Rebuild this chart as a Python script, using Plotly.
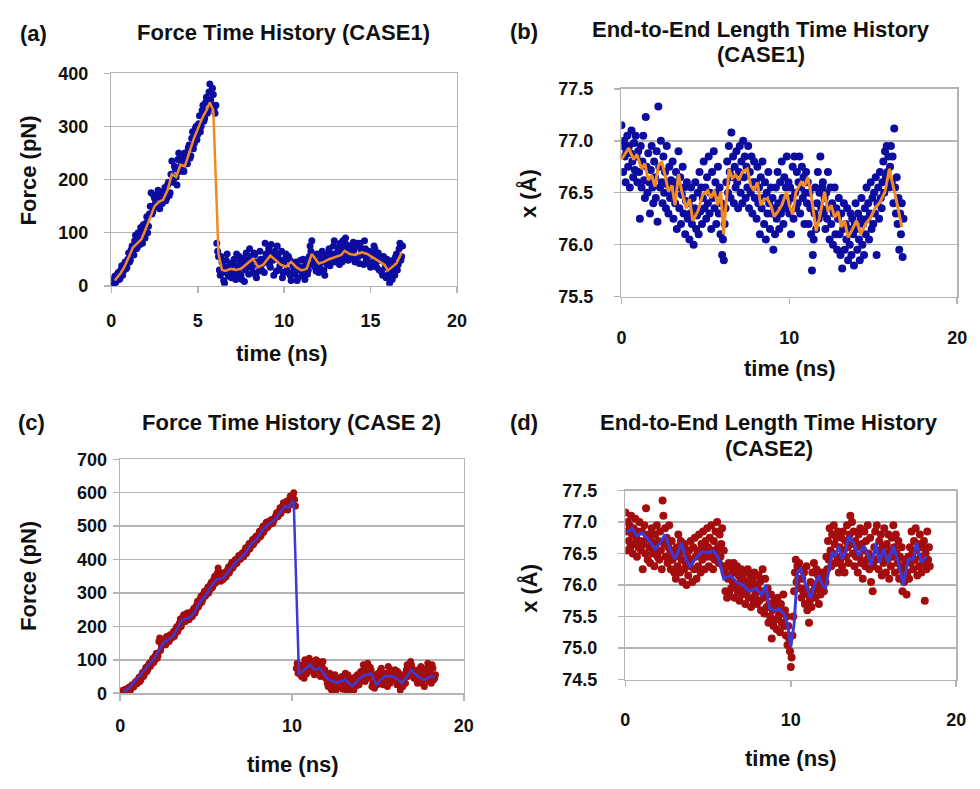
import plotly.graph_objects as go

# ---------------- DATA ----------------
# Panel (a): Force time history CASE1 (two interleaved sample sets, 0.1 ns apart each, offset 0.05 ns)
dt_a = 0.1
force_a = [8, 2, 18, 10, 25, 14, 38, 28, 45, 35,
           62, 48, 75, 58, 95, 72, 88, 110, 80, 105,
           118, 100, 135, 175, 140, 165, 150, 180, 145, 170,
           160, 185, 165, 195, 175, 235, 200, 220, 190, 250,
           225, 240, 215, 245, 230, 265, 245, 290, 268, 300,
           285, 320, 300, 340, 315, 355, 330, 380, 340, 360,
           325, 80, 55, 20, 45, 10, 35, 60, 18, 42,
           25, 50, 12, 38, 55, 20, 40, 8, 62, 35,
           70, 45, 25, 58, 15, 40, 65, 30, 50, 80,
           45, 70, 35, 62, 20, 55, 75, 30, 48, 15,
           42, 60, 25, 50, 10, 38, 22, 45, 15, 35,
           28, 50, 12, 40, 30, 75, 85, 50, 35, 60,
           25, 48, 65, 30, 55, 40, 70, 45, 60, 85,
           50, 72, 40, 65, 85, 55, 78, 48, 70, 60,
           82, 45, 75, 55, 80, 62, 40, 70, 50, 65,
           35, 60, 75, 42, 55, 30, 50, 20, 45, 15,
           35, 5, 28, 48, 20, 60, 40, 80, 55]
force_a2 = [0, 14, 6, 22, 12, 30, 20, 40, 32, 50,
            45, 68, 60, 85, 70, 100, 78, 95, 115, 90,
            130, 112, 150, 135, 170, 155, 172, 148, 165, 155,
            178, 160, 190, 170, 210, 195, 225, 205, 238, 215,
            232, 220, 250, 238, 260, 240, 278, 258, 295, 275,
            305, 290, 330, 310, 345, 325, 365, 350, 372, 335,
            340, 65, 30, 55, 25, 5, 48, 22, 38, 15,
            40, 18, 60, 28, 45, 12, 52, 30, 48, 22,
            55, 35, 62, 20, 45, 28, 50, 42, 25, 60,
            55, 40, 78, 48, 65, 28, 58, 38, 65, 25,
            50, 30, 55, 20, 45, 28, 40, 10, 30, 48,
            20, 35, 45, 22, 55, 65, 40, 55, 28, 45,
            35, 58, 45, 20, 48, 62, 38, 52, 75, 45,
            62, 55, 80, 45, 70, 90, 62, 50, 75, 55,
            68, 52, 80, 42, 70, 58, 85, 48, 62, 40,
            58, 45, 70, 35, 62, 48, 25, 55, 35, 50,
            22, 40, 12, 35, 55, 30, 70, 48, 75]
avg_t_a = [0.2, 0.5, 0.75, 1.0, 1.25, 1.5, 1.75, 2.0, 2.25, 2.5, 2.75, 3.0, 3.25, 3.5, 3.75,
           4.0, 4.25, 4.5, 4.75, 5.0, 5.25, 5.5, 5.7, 5.9, 6.2, 6.4, 6.6, 6.9, 7.2, 7.5,
           7.8, 8.2, 8.5, 8.8, 9.2, 9.5, 9.8, 10.1, 10.4, 10.7, 11.0, 11.3, 11.6, 12.0,
           12.3, 12.6, 13.0, 13.3, 13.5, 13.8, 14.1, 14.5, 14.8, 15.1, 15.5, 15.8, 16.0,
           16.3, 16.5, 16.8]
avg_a = [10, 22, 35, 55, 72, 80, 88, 108, 130, 150, 158, 162, 180, 210, 205,
         228, 225, 250, 275, 295, 315, 330, 345, 330, 60, 30, 28, 32, 30, 32,
         40, 51, 35, 40, 57, 48, 40, 36, 45, 35, 29, 32, 60, 42,
         45, 50, 54, 58, 66, 60, 58, 63, 60, 54, 45, 40, 29,
         36, 42, 63]

# Panel (b): End-to-end length CASE1 (sampled every 0.05 ns)
dt_b = 0.05
length_b = [77.15, 76.95, 76.70, 77.00, 76.85, 76.60, 76.90, 77.05, 76.75, 76.95, 76.55, 76.88, 77.10, 76.80, 76.65, 76.98, 76.72, 77.05, 76.85, 76.60,
            76.90, 76.70, 76.25, 76.95, 76.55, 76.80, 77.05, 76.62, 76.45, 77.23, 76.75, 76.50, 76.88, 76.60, 76.30, 76.72, 76.95, 76.55, 76.40, 76.80,
            76.65, 76.45, 76.90, 76.22, 77.33, 76.75, 76.55, 77.00, 76.60, 76.40, 76.85, 76.50, 76.70, 76.35, 76.95, 76.58, 76.30, 76.75, 76.45, 76.62,
            76.50, 76.80, 76.25, 76.60, 76.40, 76.70, 76.15, 76.55, 76.90, 76.35, 76.65, 76.20, 76.48, 76.75, 76.30, 76.55, 76.10, 76.42, 76.60, 76.25,
            76.40, 76.05, 76.30, 76.55, 76.20, 76.45, 76.00, 76.35, 76.60, 76.15, 76.28, 76.50, 76.10, 76.70, 76.32, 76.55, 76.20, 76.45, 76.80, 76.35,
            76.55, 76.25, 76.65, 76.40, 76.85, 76.30, 76.50, 76.15, 76.70, 76.45, 76.90, 76.35, 76.60, 76.20, 76.50, 76.75, 76.30, 76.55, 76.10, 76.40,
            75.90, 76.05, 75.85, 76.20, 76.35, 76.60, 76.80, 76.50, 76.95, 76.70, 76.45, 77.08, 76.65, 76.85, 76.40, 76.75, 76.55, 76.90, 76.60, 76.35,
            76.70, 76.95, 76.50, 76.80, 76.40, 77.00, 76.65, 76.85, 76.45, 76.75, 76.55, 76.95, 76.35, 76.70, 76.50, 76.85, 76.30, 76.60, 76.80, 76.45,
            76.60, 76.25, 76.75, 76.40, 76.55, 76.10, 76.65, 76.35, 76.80, 76.45, 76.20, 76.60, 76.05, 76.50, 76.30, 76.70, 76.40, 76.15, 76.55, 76.30,
            76.45, 75.95, 76.35, 76.10, 76.55, 76.25, 76.70, 76.40, 76.15, 76.60, 76.30, 76.80, 76.45, 76.20, 76.65, 76.35, 76.55, 76.85, 76.40, 76.60,
            76.30, 76.55, 76.10, 76.45, 76.75, 76.25, 76.85, 76.50, 76.35, 76.70, 76.40, 76.60, 76.85, 76.30, 76.55, 76.75, 76.45, 76.65, 76.20, 76.50,
            76.70, 76.40, 76.60, 76.20, 76.50, 76.35, 76.10, 75.75, 75.90, 76.05, 76.30, 76.55, 76.15, 76.40, 76.70, 76.25, 76.50, 76.85, 76.35, 76.55,
            76.60, 76.30, 76.45, 76.15, 76.50, 76.25, 76.70, 76.35, 76.05, 76.55, 76.20, 76.40, 76.00, 76.30, 76.55, 76.10, 76.35, 75.95, 76.25, 76.45,
            76.10, 75.90, 76.30, 75.77, 76.15, 76.40, 75.95, 76.20, 76.05, 76.35, 75.85, 76.15, 76.00, 76.30, 75.90, 76.25, 76.10, 75.80, 76.20, 76.40,
            76.15, 75.95, 76.30, 76.05, 75.85, 76.25, 76.45, 76.00, 76.20, 75.90, 76.35, 76.10, 76.55, 76.25, 76.40, 76.05, 76.30, 76.60, 76.15, 76.45,
            76.20, 76.50, 76.30, 76.65, 75.90, 76.40, 76.55, 76.25, 76.70, 76.45, 76.35, 76.60, 76.80, 76.50, 76.90, 76.65, 76.95, 76.70, 76.85, 76.55,
            76.75, 76.95, 76.60, 76.85, 76.40, 77.12, 76.55, 76.30, 76.65, 76.20, 76.45, 75.95, 76.30, 76.10, 76.40, 75.88, 76.25]
avg_t_b = [0.0, 0.43, 0.73, 0.92, 1.2, 1.4, 1.6, 1.8, 2.0, 2.2, 2.4, 2.6, 2.8, 3.0, 3.2, 3.4, 3.6,
           3.86, 4.06, 4.25, 4.55, 4.84, 5.14, 5.33, 5.53, 5.73, 5.92, 6.08, 6.41, 6.6, 6.8, 7.0,
           7.2, 7.5, 7.7, 7.9, 8.1, 8.3, 8.5, 8.7, 8.9, 9.1, 9.25, 9.55, 9.84, 10.0, 10.2, 10.4,
           10.7, 10.9, 11.1, 11.3, 11.6, 11.8, 12.1, 12.3, 12.5, 12.7, 12.9, 13.1, 13.3, 13.5,
           13.7, 14.0, 14.25, 14.55, 14.84, 15.1, 15.4, 15.7, 15.96, 16.2, 16.4, 16.7]
avg_b = [76.82, 76.93, 76.82, 76.87, 76.73, 76.78, 76.62, 76.67, 76.56, 76.76, 76.80, 76.67, 76.51, 76.57, 76.38, 76.68, 76.51,
         76.35, 76.44, 76.23, 76.32, 76.48, 76.52, 76.45, 76.52, 76.38, 76.51, 76.10, 76.73, 76.64, 76.67, 76.62,
         76.70, 76.73, 76.57, 76.52, 76.60, 76.38, 76.44, 76.44, 76.38, 76.27, 76.30, 76.38, 76.51, 76.38, 76.29, 76.51,
         76.60, 76.56, 76.65, 76.48, 76.13, 76.26, 76.51, 76.32, 76.38, 76.26, 76.32, 76.17, 76.23, 76.07,
         76.13, 76.23, 76.10, 76.20, 76.26, 76.35, 76.41, 76.51, 76.73, 76.57, 76.41, 76.17]

# Panel (c): Force time history CASE 2 (two interleaved sample sets)
dt_c = 0.1
force_c = [0, 8, 2, 12, 5, 18, 10, 25, 20, 35,
           30, 48, 40, 62, 55, 78, 70, 90, 85, 105,
           98, 120, 112, 165, 140, 158, 150, 170, 160, 175,
           165, 185, 178, 200, 192, 222, 210, 235, 215, 240,
           220, 242, 230, 255, 248, 275, 265, 290, 280, 305,
           295, 318, 308, 332, 320, 350, 338, 375, 345, 360,
           340, 362, 355, 378, 368, 392, 380, 400, 390, 412,
           402, 420, 410, 435, 425, 448, 440, 460, 450, 470,
           462, 485, 472, 500, 490, 512, 498, 505, 520, 510,
           525, 540, 530, 555, 545, 570, 550, 575, 560, 590,
           585, 600, 560, 90, 70, 55, 85, 45, 95, 65,
           105, 70, 90, 55, 100, 75, 85, 60, 95, 70,
           45, 20, 60, 10, 35, 55, 15, 40, 25, 50,
           30, 60, 5, 40, 20, 45, 10, 35, 55, 25,
           65, 40, 75, 50, 90, 55, 70, 30, 15, 45,
           60, 35, 75, 25, 55, 40, 80, 30, 65, 45,
           70, 25, 50, 10, 40, 55, 30, 85, 60, 95,
           75, 45, 65, 30, 55, 80, 40, 20, 60, 90,
           50, 30, 75, 45]
force_c2 = [4, 0, 10, 6, 15, 12, 22, 18, 30, 28,
            42, 35, 55, 50, 70, 65, 85, 80, 98, 92,
            112, 105, 155, 128, 150, 162, 145, 168, 155, 172,
            178, 170, 195, 185, 210, 200, 228, 220, 232, 228,
            235, 228, 250, 240, 265, 258, 282, 272, 298, 290,
            310, 300, 325, 315, 342, 330, 360, 352, 335, 352,
            350, 348, 370, 360, 385, 375, 395, 388, 405, 400,
            412, 408, 428, 418, 440, 432, 452, 445, 465, 458,
            475, 468, 490, 482, 505, 495, 515, 512, 508, 518,
            532, 528, 545, 538, 560, 552, 565, 548, 580, 570,
            592, 580, 75, 60, 80, 50, 72, 100, 58, 85,
            80, 95, 62, 88, 70, 95, 50, 80, 65, 45,
            30, 50, 15, 42, 28, 8, 45, 20, 38, 12,
            45, 25, 55, 15, 35, 8, 48, 22, 40, 60,
            50, 85, 35, 60, 45, 78, 20, 55, 40, 25,
            45, 70, 50, 35, 60, 20, 50, 70, 40, 55,
            40, 65, 30, 55, 20, 45, 70, 50, 75, 85,
            55, 65, 40, 70, 50, 30, 65, 45, 75, 35,
            60, 85, 40, 55]
avg_t_c = [0.2, 0.5, 1.0, 1.5, 2.0, 2.5, 2.8, 3.0, 3.3, 3.6, 4.0, 4.3, 4.6, 5.0, 5.3, 5.6, 6.0,
           6.3, 6.6, 7.0, 7.3, 7.6, 8.0, 8.3, 8.6, 9.0, 9.3, 9.6, 9.8, 10.0, 10.1, 10.4, 10.6,
           11.05, 11.3, 11.6, 12.1, 12.6, 13.1, 13.5, 14.1, 14.6, 14.9, 15.4, 15.9, 16.4,
           16.95, 17.3, 17.7, 18.1, 18.3]
avg_c = [5, 15, 45, 75, 105, 150, 160, 168, 190, 220, 225, 240, 270, 295, 320, 340, 345,
         365, 385, 405, 420, 445, 465, 490, 505, 520, 540, 560, 555, 575, 570, 60, 65,
         85, 70, 75, 41, 31, 41, 21, 51, 60, 26, 51, 51, 31,
         70, 51, 40, 51, 50]

# Panel (d): End-to-end length CASE2 (sampled every 0.05 ns)
dt_d = 0.05
length_d = [77.15, 76.85, 76.55, 77.00, 76.70, 76.95, 76.60, 77.10, 76.80, 76.50, 76.90, 76.65, 77.05, 76.75, 76.45, 76.85, 76.60, 77.00, 76.70, 76.55,
            76.85, 76.25, 76.65, 76.95, 76.50, 77.22, 76.75, 76.40, 76.80, 76.60, 76.35, 76.70, 76.90, 76.50, 76.65, 76.30, 76.80, 76.55, 76.95, 76.45,
            76.70, 76.40, 76.85, 76.55, 76.25, 77.34, 77.10, 76.65, 76.90, 76.45, 76.75, 76.35, 76.60, 76.95, 76.50, 76.25, 76.70, 76.40, 76.55, 76.20,
            76.45, 76.10, 76.60, 76.30, 76.80, 76.50, 76.20, 76.70, 76.40, 76.05, 76.55, 76.25, 76.65, 76.35, 76.00, 76.45, 76.15, 76.55, 76.30, 76.70,
            76.40, 76.05, 76.60, 76.25, 76.75, 76.45, 76.10, 76.55, 76.30, 76.80, 76.50, 76.20, 76.65, 76.40, 76.85, 76.55, 76.25, 76.70, 76.45, 76.90,
            76.60, 76.30, 76.75, 76.45, 76.95, 76.55, 76.25, 76.70, 76.40, 76.85, 76.50, 77.00, 76.60, 76.35, 76.80, 76.45, 76.65, 76.90, 76.30, 76.55,
            76.20, 75.90, 76.30, 75.80, 76.10, 76.35, 75.85, 76.15, 75.95, 76.25, 76.05, 76.35, 75.80, 76.20, 76.00, 76.30, 75.90, 76.15, 75.75, 76.05,
            76.25, 75.85, 76.10, 75.95, 76.20, 75.70, 76.05, 75.90, 76.25, 75.80, 76.00, 76.15, 75.65, 75.95, 76.10, 75.75, 76.20, 75.85, 76.00, 75.70,
            75.95, 76.15, 75.75, 76.05, 75.60, 75.90, 76.25, 75.80, 75.55, 76.10, 75.85, 75.65, 75.95, 75.40, 75.70, 75.50, 75.85, 75.15, 75.60, 75.35,
            75.75, 75.45, 75.65, 75.30, 75.80, 75.50, 75.60, 75.25, 75.70, 75.40, 75.55, 75.85, 75.35, 75.60, 75.20, 75.50, 75.05, 75.35, 75.15, 74.95,
            74.70, 74.85, 75.20, 75.50, 75.90, 76.20, 76.40, 76.05, 76.30, 76.10, 76.35, 75.95, 76.25, 75.80, 76.10, 75.90, 76.20, 75.70, 75.95, 76.30,
            75.60, 75.85, 75.40, 75.75, 76.05, 75.65, 76.20, 75.90, 76.35, 76.00, 75.80, 76.25, 75.95, 76.15, 75.70, 76.05, 75.85, 76.20, 75.95, 76.10,
            75.90, 76.20, 76.05, 76.45, 76.25, 76.70, 76.40, 76.90, 76.55, 76.30, 76.80, 76.50, 76.95, 76.65, 76.35, 76.75, 76.45, 76.85, 76.20, 76.60,
            76.40, 76.75, 76.30, 76.85, 76.55, 76.20, 76.70, 76.45, 76.95, 76.60, 76.35, 76.80, 77.10, 76.65, 77.00, 76.50, 76.85, 76.30, 76.70, 76.45,
            76.60, 76.20, 76.80, 76.45, 76.90, 76.35, 76.65, 76.10, 76.55, 76.85, 76.30, 76.70, 76.40, 76.95, 76.50, 76.25, 76.75, 76.05, 76.45, 75.90,
            76.30, 76.60, 76.85, 76.40, 76.95, 76.55, 76.25, 76.70, 76.45, 76.80, 76.15, 76.60, 76.35, 76.90, 76.50, 76.20, 76.65, 76.40, 76.80, 76.10,
            76.55, 76.30, 76.75, 76.45, 76.95, 76.60, 76.20, 76.80, 76.50, 76.35, 76.70, 76.10, 76.45, 76.25, 76.60, 75.90, 76.30, 76.05, 76.40, 76.15,
            75.85, 76.20, 76.45, 76.10, 76.60, 76.35, 76.85, 76.50, 76.25, 76.70, 76.40, 76.90, 76.55, 76.15, 76.65, 76.30, 76.80, 76.45, 76.20, 76.60,
            76.35, 76.70, 75.75, 76.50, 76.25, 76.85, 76.40, 76.60, 76.30]
avg_t_d = [0.1, 0.4, 0.7, 1.0, 1.4, 1.8, 2.1, 2.4, 2.7, 3.0, 3.4, 3.6, 3.9, 4.2, 4.6, 5.0, 5.35,
           5.65, 5.95, 6.35, 6.7, 7.1, 7.5, 7.9, 8.2, 8.5, 8.7, 9.0, 9.3, 9.6, 9.8, 10.0, 10.2,
           10.4, 10.6, 10.9, 11.2, 11.5, 11.7, 11.9, 12.1, 12.3, 12.5, 12.7, 12.9, 13.1, 13.3,
           13.5, 13.8, 14.1, 14.4, 14.7, 14.85, 15.15, 15.35, 15.6, 15.9, 16.2, 16.5, 16.8,
           17.1, 17.4, 17.6, 17.9, 18.2]
avg_d = [76.83, 76.90, 76.78, 76.83, 76.72, 76.57, 76.67, 76.80, 76.57, 76.41, 76.67, 76.46, 76.28, 76.41, 76.52, 76.52, 76.54,
         76.41, 76.10, 76.15, 76.05, 76.00, 75.90, 75.95, 75.84, 76.00, 75.64, 75.59, 75.62, 75.54, 75.38, 75.02, 75.38,
         76.21, 76.26, 76.00, 75.79, 76.05, 76.15, 76.00, 75.95, 76.21, 76.52, 76.46, 76.62, 76.41, 76.52,
         76.78, 76.67, 76.46, 76.62, 76.46, 76.31, 76.67, 76.36, 76.57, 76.36, 76.62, 76.36, 76.00,
         76.41, 76.41, 76.67, 76.36, 76.46]

# tick values
x_ticks_a = [0, 5, 10, 15, 20]
x_ticks_bcd = [0, 10, 20]
y_ticks_a = [0, 100, 200, 300, 400]
y_ticks_b = [75.5, 76.0, 76.5, 77.0, 77.5]
y_ticks_c = [0, 100, 200, 300, 400, 500, 600, 700]
y_ticks_d = [74.5, 75.0, 75.5, 76.0, 76.5, 77.0, 77.5]


def times(values, dt, start=0.0):
    return [round(start + i * dt, 3) for i in range(len(values))]


# ---------------- FIGURE ----------------
W, H = 980, 789
FONT = "Liberation Sans, Arial, sans-serif"
BLUE_PT = "#0c0ca0"
ORANGE = "#f28a22"
RED_PT = "#a30d0d"
BLUE_LN = "#3a3ad6"
GRID = "#b4b4b4"
TXT = "#111111"


def px_dom(a, b, total, flip=False):
    if flip:
        return [1 - b / total, 1 - a / total]
    return [a / total, b / total]


fig = go.Figure()

panels = [
    dict(key="", xd=px_dom(108, 459, W), yd=px_dom(65, 283, H, True),
         pts=[(times(force_a, dt_a), force_a), (times(force_a2, dt_a, 0.05), force_a2)],
         lt=avg_t_a, lv=avg_a, pc=BLUE_PT, lc=ORANGE, xt=x_ticks_a, yt=y_ticks_a, yr=[0, 400], xr=[0, 20],
         fmt="d", xsoff=12, ysoff=12, ms=7, lw=2.5),
    dict(key="2", xd=px_dom(626, 967, W), yd=px_dom(81, 294, H, True),
         pts=[(times(length_b, dt_b), length_b)],
         lt=avg_t_b, lv=avg_b, pc=BLUE_PT, lc=ORANGE, xt=x_ticks_bcd, yt=y_ticks_b, yr=[75.5, 77.5], xr=[0, 20],
         fmt=".1f", xsoff=18, ysoff=17, ms=8, lw=3),
    dict(key="3", xd=px_dom(117, 466, W), yd=px_dom(461, 701, H, True),
         pts=[(times(force_c, dt_c), force_c), (times(force_c2, dt_c, 0.05), force_c2)],
         lt=avg_t_c, lv=avg_c, pc=RED_PT, lc=BLUE_LN, xt=x_ticks_bcd, yt=y_ticks_c, yr=[0, 700], xr=[0, 20],
         fmt="d", xsoff=10, ysoff=2, ms=7, lw=2.5),
    dict(key="4", xd=px_dom(630, 966, W), yd=px_dom(493, 687, H, True),
         pts=[(times(length_d, dt_d), length_d)],
         lt=avg_t_d, lv=avg_d, pc=RED_PT, lc=BLUE_LN, xt=x_ticks_bcd, yt=y_ticks_d, yr=[74.5, 77.5], xr=[0, 20],
         fmt=".1f", xsoff=17, ysoff=17, ms=8, lw=3),
]

for p in panels:
    k = p["key"]
    for tx, vy in p["pts"]:
        fig.add_trace(go.Scatter(x=tx, y=vy, mode="markers",
                                 marker=dict(color=p["pc"], size=p["ms"], line=dict(width=0)),
                                 xaxis="x" + k, yaxis="y" + k, showlegend=False, hoverinfo="skip"))
    fig.add_trace(go.Scatter(x=p["lt"], y=p["lv"], mode="lines",
                             line=dict(color=p["lc"], width=p["lw"]),
                             xaxis="x" + k, yaxis="y" + k, showlegend=False, hoverinfo="skip"))
    tickfont = dict(family=FONT, size=18, color=TXT, weight="bold")
    xa = dict(domain=p["xd"], range=p["xr"], tickvals=p["xt"], showgrid=False, zeroline=False,
              showline=True, linecolor=GRID, linewidth=1.5, mirror=True,
              ticks="outside", ticklen=6, tickcolor=GRID, tickwidth=1.5,
              tickfont=tickfont, ticklabelstandoff=p["xsoff"], anchor="y" + k, fixedrange=True)
    ya = dict(domain=p["yd"], range=p["yr"], tickvals=p["yt"], tickformat=p["fmt"], showgrid=True,
              gridcolor=GRID, gridwidth=1.5, zeroline=False,
              showline=True, linecolor=GRID, linewidth=1.5, mirror=True,
              ticks="outside", ticklen=6, tickcolor=GRID, tickwidth=1.5,
              tickfont=tickfont, ticklabelstandoff=p["ysoff"], anchor="x" + k, fixedrange=True)
    fig.layout["xaxis" + k] = xa
    fig.layout["yaxis" + k] = ya


def ann(text, x, y, size, angle=0):
    return dict(text=text, x=x / W, y=1 - y / H, xref="paper", yref="paper",
                xanchor="center", yanchor="middle", showarrow=False, textangle=angle,
                font=dict(family=FONT, size=size, color=TXT))


TS = 22
AS = 22
annotations = [
    ann("<b>(a)</b>", 29, 24, 22),
    ann("<b>Force Time History (CASE1)</b>", 283, 23, TS),
    ann("<b>(b)</b>", 527, 22, 22),
    ann("<b>End-to-End Length Time History</b>", 768, 20, TS),
    ann("<b>(CASE1)</b>", 768, 46, TS),
    ann("<b>(c)</b>", 27, 423, 22),
    ann("<b>Force Time History (CASE 2)</b>", 291, 423, TS),
    ann("<b>(d)</b>", 527, 423, 22),
    ann("<b>End-to-End Length Time History</b>", 776, 423, TS),
    ann("<b>(CASE2)</b>", 776, 450, TS),
    # axis titles
    ann("<b>time (ns)</b>", 281, 352, AS),
    ann("<b>Force (pN)</b>", 24, 165, AS, -90),
    ann("<b>time (ns)</b>", 797, 368, AS),
    ann("<b>x (Å)</b>", 531, 188, AS, -90),
    ann("<b>time (ns)</b>", 292, 774, AS),
    ann("<b>Force (pN)</b>", 24, 581, AS, -90),
    ann("<b>time (ns)</b>", 798, 768, AS),
    ann("<b>x (Å)</b>", 532, 593, AS, -90),
]

fig.update_layout(width=W, height=H, margin=dict(l=0, r=0, t=0, b=0),
                  paper_bgcolor="white", plot_bgcolor="white",
                  annotations=annotations, showlegend=False,
                  font=dict(family=FONT, color=TXT))

fig.write_html("out.html", config={"displayModeBar": False, "staticPlot": True},
               post_script="document.body.style.margin='0px';document.body.style.overflow='hidden';")
